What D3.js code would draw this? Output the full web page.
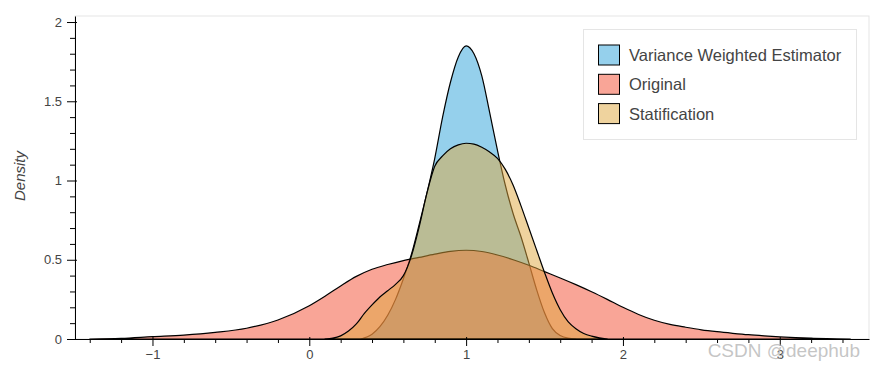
<!DOCTYPE html>
<html>
<head>
<meta charset="utf-8">
<script src="https://cdn.jsdelivr.net/npm/d3@7.9.0/dist/d3.min.js"></script>
<style>
  body { margin: 0; background: #fff; }
  svg { display: block; font-family: "Liberation Sans", Arial, Helvetica, sans-serif; }
</style>
</head>
<body>
<svg id="chart" width="875" height="370"></svg>
<script>
// density estimates
const seriesNames = ['Variance Weighted Estimator', 'Original', 'Statification'];
const seriesColors = ['#2ba1d9', '#f34b2f', '#dfa73d'];

const vweX = [0.33, 0.4, 0.45, 0.5, 0.55, 0.6, 0.65, 0.7, 0.75, 0.8, 0.85, 0.9, 0.95, 1.0,
  1.05, 1.1, 1.15, 1.2, 1.25, 1.3, 1.35, 1.4, 1.45, 1.5, 1.55, 1.6, 1.65, 1.7];
const vweY = [0, 0.03, 0.078, 0.15, 0.25, 0.38, 0.53, 0.72, 0.92, 1.14, 1.4, 1.62, 1.78, 1.85,
  1.8, 1.66, 1.43, 1.19, 0.97, 0.79, 0.645, 0.48, 0.31, 0.165, 0.065, 0.022, 0.005, 0];

const origX = [-1.4, -1.2, -1.0, -0.8, -0.6, -0.4, -0.2, 0, 0.1, 0.2, 0.3, 0.4, 0.5, 0.6, 0.7,
  0.8, 0.9, 1.0, 1.1, 1.2, 1.3, 1.4, 1.5, 1.6, 1.7, 1.8, 1.9, 2.0, 2.1, 2.2, 2.3, 2.4, 2.5,
  2.6, 2.7, 2.8, 2.9, 3.0, 3.1, 3.2, 3.3, 3.45];
const origY = [0, 0.004, 0.015, 0.025, 0.042, 0.068, 0.12, 0.21, 0.27, 0.335, 0.395, 0.44, 0.47,
  0.495, 0.515, 0.535, 0.553, 0.56, 0.552, 0.53, 0.5, 0.465, 0.425, 0.385, 0.343, 0.298, 0.25,
  0.2, 0.155, 0.118, 0.092, 0.074, 0.058, 0.046, 0.036, 0.027, 0.02, 0.014, 0.009, 0.005,
  0.002, 0];

const stratX = [0.1, 0.15, 0.2, 0.25, 0.3, 0.35, 0.4, 0.45, 0.5, 0.55, 0.6, 0.65, 0.7, 0.75,
  0.8, 0.85, 0.9, 0.95, 1.0, 1.05, 1.1, 1.15, 1.2, 1.25, 1.3, 1.35, 1.4, 1.45, 1.5, 1.55, 1.6,
  1.65, 1.7, 1.75, 1.8, 1.85, 1.9];
const stratY = [0, 0.005, 0.02, 0.05, 0.095, 0.16, 0.215, 0.265, 0.305, 0.345, 0.4, 0.52, 0.705,
  0.92, 1.09, 1.155, 1.2, 1.225, 1.235, 1.23, 1.21, 1.18, 1.14, 1.07, 0.97, 0.84, 0.7, 0.56,
  0.42, 0.29, 0.185, 0.11, 0.065, 0.035, 0.018, 0.007, 0];

const xTicks = [-1, 0, 1, 2, 3];
const yTicks = [0, 0.5, 1, 1.5, 2];
const xMinor = [-1.4, -1.2, -0.8, -0.6, -0.4, -0.2, 0.2, 0.4, 0.6, 0.8, 1.2, 1.4, 1.6, 1.8,
  2.2, 2.4, 2.6, 2.8, 3.2, 3.4];
const yMinor = [0.1, 0.2, 0.3, 0.4, 0.6, 0.7, 0.8, 0.9, 1.1, 1.2, 1.3, 1.4, 1.6, 1.7, 1.8, 1.9];

const svg = d3.select('#chart');
const plotLeft = 75, plotRight = 869, plotTop = 16, plotBottom = 339;

const x = d3.scaleLinear().domain([-1.494, 3.569]).range([plotLeft, plotRight]);
const y = d3.scaleLinear().domain([0, 2.038]).range([plotBottom, plotTop]);

// plot frame
svg.append('rect')
  .attr('x', plotLeft).attr('y', plotTop)
  .attr('width', plotRight - plotLeft).attr('height', plotBottom - plotTop)
  .attr('fill', 'none').attr('stroke', '#e5e5e5');

const area = d3.area()
  .x(d => x(d[0]))
  .y0(y(0))
  .y1(d => y(d[1]))
  .curve(d3.curveMonotoneX);

const series = [
  d3.zip(vweX, vweY),
  d3.zip(origX, origY),
  d3.zip(stratX, stratY)
];

series.forEach((pts, i) => {
  svg.append('path')
    .attr('d', area(pts))
    .attr('fill', seriesColors[i])
    .attr('fill-opacity', 0.5)
    .attr('stroke', '#000')
    .attr('stroke-width', 1.2)
    .attr('stroke-linejoin', 'round');
});

// axes
const xAxis = svg.append('g')
  .attr('transform', `translate(0,${plotBottom})`)
  .call(d3.axisBottom(x).tickValues(xTicks).tickSize(7).tickSizeOuter(0).tickPadding(4)
    .tickFormat(d3.format('d')));
xAxis.selectAll('.tick line').attr('y1', -2);
svg.append('g')
  .attr('transform', `translate(0,${plotBottom})`)
  .call(d3.axisBottom(x).tickValues(xMinor).tickSize(4).tickFormat(''))
  .select('.domain').remove();

const yAxis = svg.append('g')
  .attr('transform', `translate(${plotLeft},0)`)
  .call(d3.axisLeft(y).tickValues(yTicks).tickSize(8).tickSizeOuter(0).tickPadding(5)
    .tickFormat(d => String(d)));
yAxis.selectAll('.tick line').attr('x1', 2);
svg.append('g')
  .attr('transform', `translate(${plotLeft},0)`)
  .call(d3.axisLeft(y).tickValues(yMinor).tickSize(5).tickFormat(''))
  .select('.domain').remove();

svg.selectAll('.domain, .tick line').attr('stroke', '#000');
svg.selectAll('.tick text')
  .attr('fill', '#444')
  .style('font-size', '13px')
  .style('font-family', '"Liberation Sans", Arial, sans-serif');

svg.append('text')
  .attr('transform', 'translate(25,176) rotate(-90)')
  .attr('text-anchor', 'middle')
  .attr('fill', '#444')
  .style('font-size', '15px')
  .style('font-style', 'italic')
  .text('Density');

// legend
const legend = svg.append('g');
legend.append('rect')
  .attr('x', 583.5).attr('y', 29.5)
  .attr('width', 273).attr('height', 110)
  .attr('fill', '#fff').attr('stroke', '#e5e5e5');

seriesNames.forEach((name, i) => {
  const yy = 45 + i * 29.3;
  legend.append('rect')
    .attr('x', 598.5).attr('y', yy)
    .attr('width', 21).attr('height', 20)
    .attr('fill', seriesColors[i]).attr('fill-opacity', 0.5)
    .attr('stroke', '#000');
  legend.append('text')
    .attr('x', 629).attr('y', yy + 16)
    .attr('fill', '#444')
    .style('font-size', '16.5px')
    .text(name);
});

// watermark
svg.append('text')
  .attr('x', 860).attr('y', 357)
  .attr('text-anchor', 'end')
  .attr('fill', '#bbb')
  .attr('fill-opacity', 0.85)
  .style('font-size', '19px')
  .text('CSDN @deephub');
</script>
</body>
</html>
